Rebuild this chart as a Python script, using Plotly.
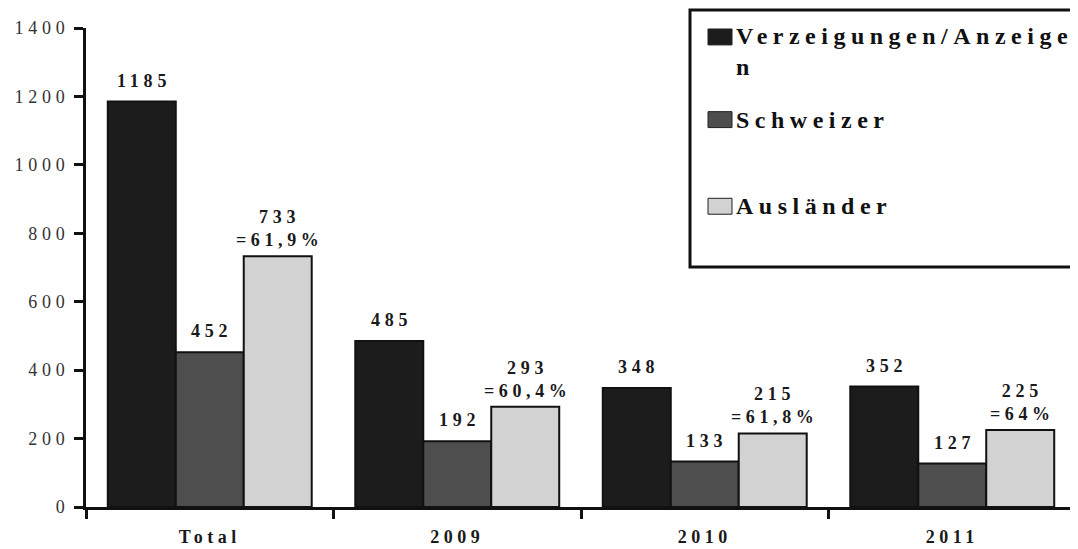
import plotly.graph_objects as go

categories = ["Total", "2009", "2010", "2011"]
series_names = ["Verzeigungen/Anzeige<br>n", "Schweizer", "Ausländer"]
verzeigungen = [1185, 485, 348, 352]
schweizer = [452, 192, 133, 127]
auslaender = [733, 293, 215, 225]
auslaender_pct = ["=61,9%", "=60,4%", "=61,8%", "=64%"]
y_ticks = [0, 200, 400, 600, 800, 1000, 1200, 1400]

series_values = [verzeigungen, schweizer, auslaender]
colors = ["#1c1c1c", "#4e4e4e", "#d2d2d2"]

FONT = "Liberation Serif"
OFF = 8  # default page body margin
W, H = 1078 - OFF, 549 - OFF
ML, MR, MT, MB = 86 - OFF, 2, 28 - OFF, 40
BARGAP = 0.176


def spaced(txt, sp, bold=False):
    s = f'<span style="letter-spacing:{sp}px">{txt}</span>'
    return f"<b>{s}</b>" if bold else s


fig = go.Figure()
for name, vals, col in zip(series_names, series_values, colors):
    fig.add_trace(go.Bar(
        x=categories, y=vals, name=name,
        marker=dict(color=col, line=dict(color="#111111", width=2)),
        showlegend=False,
    ))

# value labels
plot_w = W - ML - MR
plot_h = H - MT - MB
cat_px = plot_w / len(categories)
bar_px = cat_px * (1 - BARGAP) / 3
annotations = []
for i, vals in enumerate(series_values):
    for j, v in enumerate(vals):
        if i == 2:
            txt = spaced(str(v), 4.8, True) + "<br>" + spaced(auslaender_pct[j], 4.6, True)
            ysh = 4
        else:
            txt = spaced(str(v), 4.8, True)
            ysh = 9
        annotations.append(dict(
            x=j, y=v, xref="x", yref="y", text=txt, showarrow=False,
            xanchor="center", yanchor="bottom", xshift=(i - 1) * bar_px + 2, yshift=ysh,
            font=dict(family=FONT, size=18, color="#1a1a1a"),
        ))


# manual legend (page-pixel helpers)
def py(pix):
    return (H - MB - (pix - OFF)) / plot_h


def px(pix):
    return ((pix - OFF) - ML) / plot_w


shapes = [dict(type="rect", xref="paper", yref="paper",
               x0=px(690), x1=px(1100), y0=py(268), y1=py(10),
               line=dict(color="#111111", width=3), fillcolor="rgba(0,0,0,0)")]
centers = [37, 120, 207]
for name, col, cy in zip(series_names, colors, centers):
    shapes.append(dict(type="rect", xref="paper", yref="paper",
                       x0=px(708), x1=px(732), y0=py(cy + 8), y1=py(cy - 8),
                       line=dict(color="#222222", width=1), fillcolor=col))
    lines = name.split("<br>")
    txt = "<br>".join(spaced(l, 5.5, True) for l in lines)
    if len(lines) > 1:
        annotations.append(dict(x=px(734), y=py(cy - 16), xref="paper", yref="paper",
                                text=txt, showarrow=False, xanchor="left", yanchor="top",
                                align="left", font=dict(family=FONT, size=24, color="#111111")))
    else:
        annotations.append(dict(x=px(734), y=py(cy), xref="paper", yref="paper",
                                text=txt, showarrow=False, xanchor="left", yanchor="middle",
                                align="left", font=dict(family=FONT, size=24, color="#111111")))

fig.update_layout(
    width=W, height=H,
    margin=dict(l=ML, r=MR, t=MT, b=MB),
    paper_bgcolor="white", plot_bgcolor="white",
    barmode="group", bargap=BARGAP, bargroupgap=0,
    shapes=shapes, annotations=annotations,
    font=dict(family=FONT),
)
fig.update_xaxes(
    type="category", range=[-0.5, 3.5], showgrid=False,
    showline=True, linecolor="#111111", linewidth=2.5,
    ticks="outside", tickson="boundaries", ticklen=9, tickwidth=2.5, tickcolor="#111111",
    tickvals=categories, ticktext=[spaced(c, 4.5, True) for c in categories],
    tickfont=dict(family=FONT, size=18, color="#1a1a1a"),
    ticklabelstandoff=12,
)
fig.update_yaxes(
    range=[0, 1400], showgrid=False, zeroline=False,
    showline=True, linecolor="#111111", linewidth=2.5,
    ticks="outside", ticklen=9, tickwidth=2.5, tickcolor="#111111",
    tickvals=y_ticks, ticktext=[spaced(str(t), 4.8) for t in y_ticks],
    tickfont=dict(family=FONT, size=18, color="#333333"),
    ticklabelstandoff=1,
)

fig.write_html("out.html")
